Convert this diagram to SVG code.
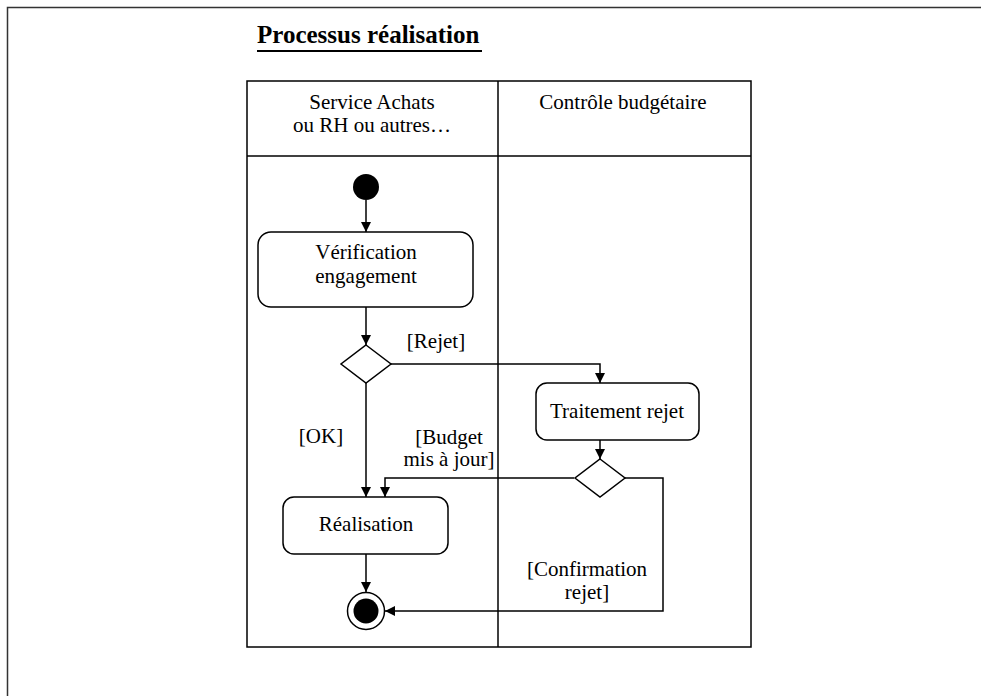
<svg xmlns="http://www.w3.org/2000/svg" width="981" height="696" viewBox="0 0 981 696">
<defs>
<style>
text{font-family:"Liberation Serif","Times New Roman",serif;font-size:21px;fill:#000}
.t{text-anchor:middle}
.box{fill:#fff;stroke:#000;stroke-width:1.5}
.ln{fill:none;stroke:#000;stroke-width:1.5}
.cn{fill:none;stroke:#000;stroke-width:1.5;marker-end:url(#ah)}
</style>
<marker id="ah" viewBox="0 0 10 10" refX="10" refY="5" markerWidth="10" markerHeight="10" markerUnits="userSpaceOnUse" orient="auto">
<path d="M0,0 L10,5 L0,10 Z" fill="#000"/>
</marker>
</defs>
<rect width="981" height="696" fill="#fff"/>
<path d="M7.5,696 V7.5 H981" fill="none" stroke="#333" stroke-width="1.5"/>
<g id="title">
<text x="257" y="43" style="font-weight:bold;font-size:25px">Processus réalisation</text>
<line x1="257" y1="51" x2="482" y2="51" stroke="#000" stroke-width="2"/>
</g>
<g id="swimlanes">
<rect x="247" y="81" width="504" height="566" class="ln"/>
<line x1="247" y1="156" x2="751" y2="156" class="ln"/>
<line x1="498" y1="81" x2="498" y2="647" class="ln"/>
<text class="t" x="372" y="109">Service Achats</text>
<text class="t" x="372" y="132">ou RH ou autres…</text>
<text class="t" x="623" y="109">Contrôle budgétaire</text>
</g>
<g id="connectors">
<line x1="366" y1="200" x2="366" y2="232" class="cn"/>
<line x1="366" y1="307" x2="366" y2="345" class="cn"/>
<path d="M391,364 H600 V383" class="cn"/>
<line x1="366" y1="383" x2="366" y2="497" class="cn"/>
<line x1="600" y1="440" x2="600" y2="459" class="cn"/>
<path d="M574,478 H385 V497" class="cn"/>
<path d="M625,478 H663 V611 H385" class="cn"/>
<line x1="366" y1="554" x2="366" y2="592" class="cn"/>
<text class="t" x="436" y="348">[Rejet]</text>
<text class="t" x="321" y="443">[OK]</text>
<text class="t" x="449" y="444">[Budget</text>
<text class="t" x="449" y="466">mis à jour]</text>
<text class="t" x="587" y="576">[Confirmation</text>
<text class="t" x="587" y="599">rejet]</text>
</g>
<g id="start"><circle cx="366" cy="187" r="13" fill="#000"/></g>
<g id="verification">
<rect x="258" y="232" width="215" height="75" rx="13" class="box"/>
<text class="t" x="366" y="259">Vérification</text>
<text class="t" x="366" y="283">engagement</text>
</g>
<g id="decision1"><polygon points="366,345 391,364 366,383 341,364" class="box"/></g>
<g id="traitement">
<rect x="536" y="383" width="163" height="57" rx="11" class="box"/>
<text class="t" x="617" y="418">Traitement rejet</text>
</g>
<g id="decision2"><polygon points="600,459 625,478 600,497 575,478" class="box"/></g>
<g id="realisation">
<rect x="283" y="497" width="165" height="57" rx="11" class="box"/>
<text class="t" x="366" y="531">Réalisation</text>
</g>
<g id="end">
<circle cx="366" cy="611" r="18.5" fill="#fff" stroke="#000" stroke-width="1.5"/>
<circle cx="366" cy="611" r="12.5" fill="#000"/>
</g>
</svg>
